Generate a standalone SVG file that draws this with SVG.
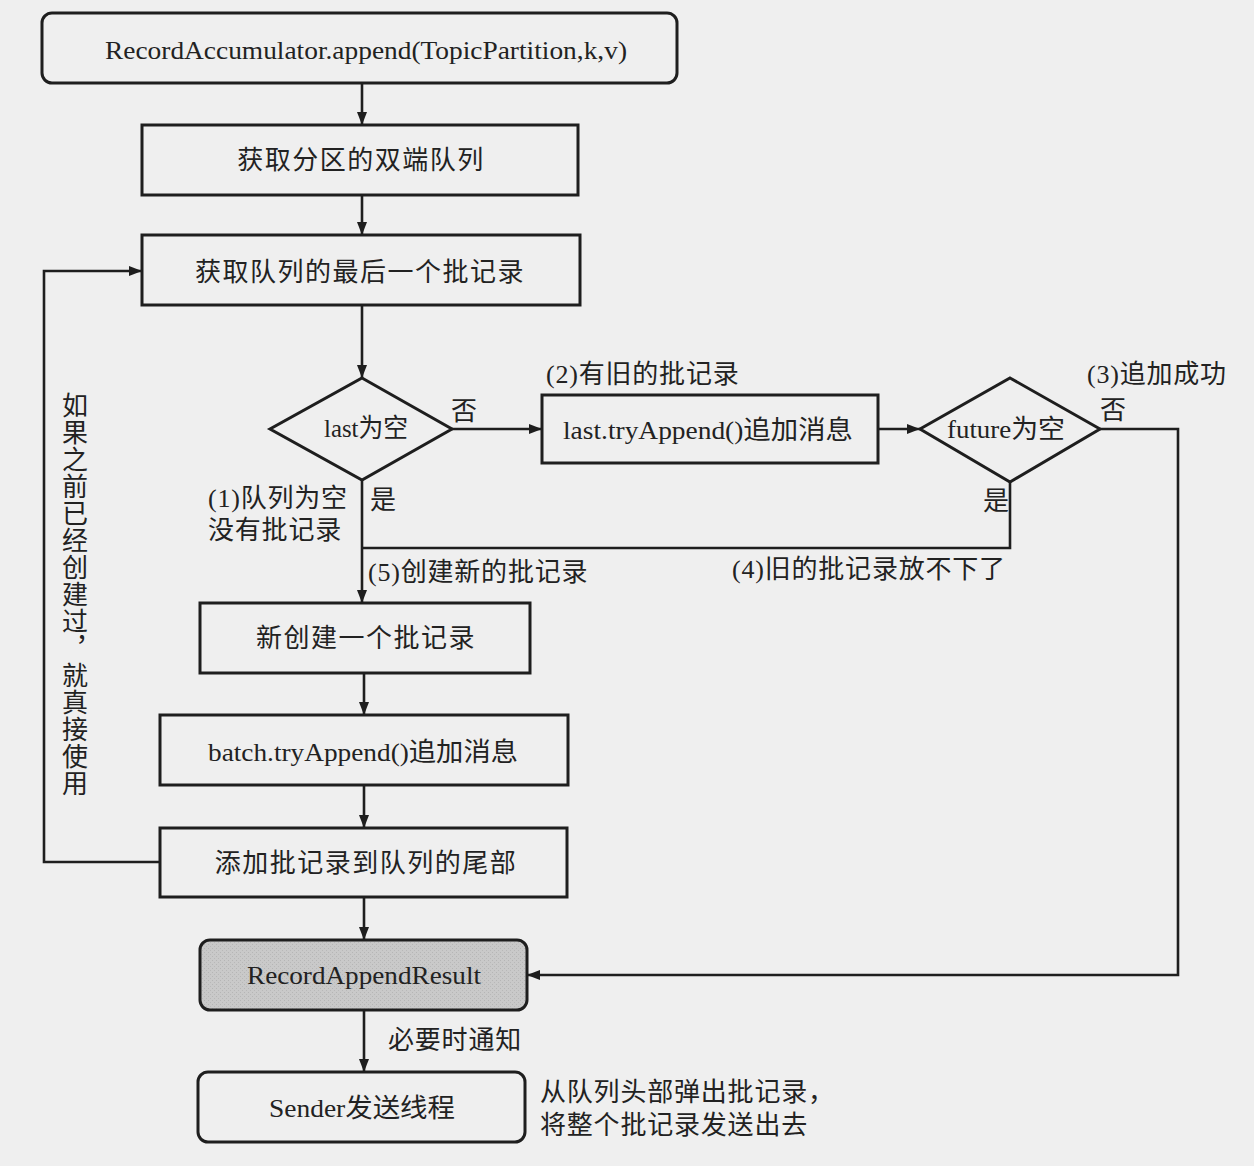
<svg xmlns="http://www.w3.org/2000/svg" width="1254" height="1166" viewBox="0 0 1254 1166">
<defs>
<marker id="ah" viewBox="0 0 13 10" refX="13" refY="5" markerWidth="13" markerHeight="10" markerUnits="userSpaceOnUse" orient="auto">
<path d="M0,0 L13,5 L0,10 Z" fill="#1e1e1e"/>
</marker>
<pattern id="grain" width="4" height="4" patternUnits="userSpaceOnUse">
<rect width="4" height="4" fill="#c9c9c9"/>
<rect x="0" y="0" width="1" height="1" fill="#b5b5b5"/>
<rect x="2" y="2" width="1" height="1" fill="#b8b8b8"/>
</pattern>
</defs>
<style>
.box{fill:none;stroke:#1e1e1e;stroke-width:3}
.ln{fill:none;stroke:#1e1e1e;stroke-width:2.6}
.t{font-family:"Liberation Serif","Noto Sans CJK SC",serif;font-size:26px;fill:#222;text-anchor:middle}
.l{font-family:"Liberation Serif","Noto Sans CJK SC",serif;font-size:26px;fill:#222;letter-spacing:0.8px}
</style>
<rect width="1254" height="1166" fill="#efefef"/>

<g id="connectors">
<path class="ln" d="M362,83 V125" marker-end="url(#ah)"/>
<path class="ln" d="M362,195 V235" marker-end="url(#ah)"/>
<path class="ln" d="M362,305 V378" marker-end="url(#ah)"/>
<path class="ln" d="M452,429 H542" marker-end="url(#ah)"/>
<path class="ln" d="M878,429 H920" marker-end="url(#ah)"/>
<path class="ln" d="M1100,429 H1178 V975 H527" marker-end="url(#ah)"/>
<path class="ln" d="M1010,482 V548 H362"/>
<path class="ln" d="M362,480 V603" marker-end="url(#ah)"/>
<path class="ln" d="M364,673 V715" marker-end="url(#ah)"/>
<path class="ln" d="M364,785 V828" marker-end="url(#ah)"/>
<path class="ln" d="M160,862 H44 V271 H142" marker-end="url(#ah)"/>
<path class="ln" d="M364,897 V940" marker-end="url(#ah)"/>
<path class="ln" d="M364,1010 V1072" marker-end="url(#ah)"/>
</g>

<g id="n_append">
<rect class="box" x="42" y="13" width="635" height="70" rx="10"/>
<text class="t" x="366" y="59" font-size="29" textLength="522" lengthAdjust="spacingAndGlyphs">RecordAccumulator.append(TopicPartition,k,v)</text>
</g>
<g id="n_deque">
<rect class="box" x="142" y="125" width="436" height="70"/>
<text class="t" x="361" y="169" letter-spacing="1.5">获取分区的双端队列</text>
</g>
<g id="n_last">
<rect class="box" x="142" y="235" width="438" height="70"/>
<text class="t" x="360" y="281" letter-spacing="1.5">获取队列的最后一个批记录</text>
</g>
<g id="n_lastempty">
<polygon class="box" points="362,378 452,429 362,480 270,429"/>
<text class="t" x="366" y="437" font-size="27" textLength="84" lengthAdjust="spacingAndGlyphs">last为空</text>
</g>
<g id="n_tryappend">
<rect class="box" x="542" y="395" width="336" height="68"/>
<text class="t" x="708" y="439" font-size="27" textLength="290" lengthAdjust="spacingAndGlyphs">last.tryAppend()追加消息</text>
</g>
<g id="n_future">
<polygon class="box" points="1010,378 1100,429 1010,482 920,429"/>
<text class="t" x="1006" y="438" font-size="27" textLength="118" lengthAdjust="spacingAndGlyphs">future为空</text>
</g>
<g id="n_newbatch">
<rect class="box" x="200" y="603" width="330" height="70"/>
<text class="t" x="366" y="647" letter-spacing="1.5">新创建一个批记录</text>
</g>
<g id="n_batchappend">
<rect class="box" x="160" y="715" width="408" height="70"/>
<text class="t" x="363" y="761" font-size="27" textLength="310" lengthAdjust="spacingAndGlyphs">batch.tryAppend()追加消息</text>
</g>
<g id="n_addtail">
<rect class="box" x="160" y="828" width="407" height="69"/>
<text class="t" x="366" y="872" letter-spacing="1.5">添加批记录到队列的尾部</text>
</g>
<g id="n_result">
<rect x="200" y="940" width="327" height="70" rx="10" fill="url(#grain)" stroke="#1e1e1e" stroke-width="3"/>
<text class="t" x="364" y="984" font-size="28" textLength="234" lengthAdjust="spacingAndGlyphs">RecordAppendResult</text>
</g>
<g id="n_sender">
<rect class="box" x="198" y="1072" width="327" height="70" rx="10"/>
<text class="t" x="362" y="1117" font-size="27" textLength="186" lengthAdjust="spacingAndGlyphs">Sender发送线程</text>
</g>

<g id="labels">
<text class="l" x="451" y="420">否</text>
<text class="l" x="546" y="383">(2)有旧的批记录</text>
<text class="l" x="1087" y="383">(3)追加成功</text>
<text class="l" x="1100" y="419">否</text>
<text class="l" x="983" y="510">是</text>
<text class="l" x="208" y="507">(1)队列为空</text>
<text class="l" x="208" y="539">没有批记录</text>
<text class="l" x="370" y="509">是</text>
<text class="l" x="368" y="581">(5)创建新的批记录</text>
<text class="l" x="732" y="578">(4)旧的批记录放不下了</text>
<text class="l" x="388" y="1049">必要时通知</text>
<text class="l" x="540" y="1101">从队列头部弹出批记录，</text>
<text class="l" x="540" y="1134">将整个批记录发送出去</text>
<text class="t" x="72" y="392" style="writing-mode:vertical-rl;text-anchor:start;letter-spacing:1px">如果之前已经创建过，就真接使用</text>
</g>
</svg>
